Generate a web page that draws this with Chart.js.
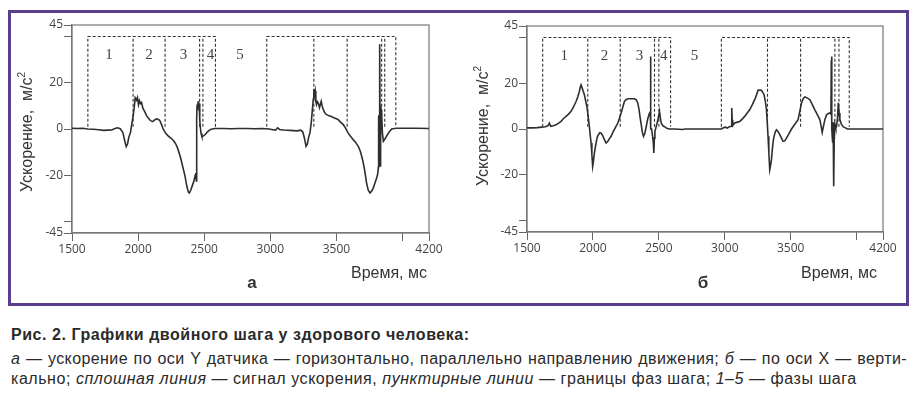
<!DOCTYPE html>
<html lang="ru">
<head>
<meta charset="utf-8">
<script src="https://cdn.jsdelivr.net/npm/chart.js@4/dist/chart.umd.min.js"></script>
<style>
  html, body { margin: 0; padding: 0; background: #fff; }
  body { width: 919px; height: 397px; position: relative; overflow: hidden;
         font-family: "Liberation Sans", Arial, sans-serif; color: #333; }
  .frame { position: absolute; left: 8px; top: 10px; width: 901px; height: 296px;
           box-sizing: border-box; border: 3px solid #5b3d8e; }
  canvas { position: absolute; }
  .ytitle { position: absolute; font-size: 16px; white-space: pre; line-height: 18px;
            transform: translate(-50%, -50%) rotate(-90deg); }
  .ytitle sup { font-size: 10px; vertical-align: 7px; line-height: 0; }
  .xtitle { position: absolute; font-size: 16px; line-height: 16px; white-space: nowrap; }
  .sub { position: absolute; font-size: 17px; font-weight: bold; line-height: 17px;
         transform: translateX(-50%); }
  .cap { position: absolute; left: 11px; width: 896px; font-size: 16px; line-height: 16px;
         letter-spacing: 0.55px; white-space: nowrap; color: #2a2a2a; }
  .cap.b { font-weight: bold; letter-spacing: 0.55px; }
  .cap.j { text-align: justify; text-align-last: justify; white-space: normal; letter-spacing: 0.4px; }
</style>
</head>
<body>
<div class="frame"></div>

<canvas id="chartA" width="440" height="260" style="left:12px; top:14px; width:440px; height:260px"></canvas>
<canvas id="chartB" width="440" height="260" style="left:466px; top:14px; width:440px; height:260px"></canvas>

<div class="ytitle" style="left:27px; top:132px">Ускорение,  м/с<sup>2</sup></div>
<div class="ytitle" style="left:483px; top:126px">Ускорение,  м/с<sup>2</sup></div>
<div class="xtitle" style="right:492px; top:265px">Время, мс</div>
<div class="xtitle" style="right:42px; top:265px">Время, мс</div>
<div class="sub" style="left:252px; top:274px">а</div>
<div class="sub" style="left:703px; top:274px">б</div>

<div class="cap b" style="top:327px">Рис. 2. Графики двойного шага у здорового человека:</div>
<div class="cap j" style="top:351px"><i>а</i> — ускорение по оси Y датчика — горизонтально, параллельно направлению движения; <i>б</i> — по оси X — верти-</div>
<div class="cap" style="top:371px">кально; <i>сплошная линия</i> — сигнал ускорения, <i>пунктирные линии</i> — границы фаз шага; <i>1–5</i> — фазы шага</div>

<script>
// axis ticks (shared by both panels)
const xTicks = [1500, 2000, 2500, 3000, 3500, 4000, 4200];
const xTickLabels = ["1500", "2000", "2500", "3000", "3500", "", "4200"];
const yTicks = [-45, -40, -20, 0, 20, 40, 45];
const yTickLabels = ["-45", "", "-20", "0", "20", "", "45"];

// phase boxes: top / bottom of the dashed lines, phase names
const boxTop = 40;
const boxBottom = 1;
const phaseNames = ["1", "2", "3", "4", "5"];
const phaseNameY = 32;

// panel а — acceleration along Y
const timeA = [1500, 1540, 1580, 1620, 1660, 1700, 1740, 1770, 1800, 1825, 1845, 1865, 1885, 1898, 1910, 1920, 1930, 1942, 1952, 1962,
  1970, 1978, 1988, 1995, 2003, 2010, 2018, 2026, 2036, 2050, 2064, 2080, 2095, 2110, 2125, 2140, 2152, 2165, 2178, 2192,
  2210, 2229, 2250, 2270, 2285, 2300, 2318, 2330, 2343, 2355, 2369, 2380, 2388, 2398, 2410, 2422, 2432, 2436, 2440, 2443,
  2446, 2450, 2454, 2458, 2462, 2466, 2470, 2476, 2483, 2495, 2508, 2525, 2547, 2580, 2650, 2700, 2760, 2820, 2880, 2940,
  2990, 3010, 3040, 3055, 3070, 3100, 3150, 3200, 3230, 3245, 3258, 3270, 3280, 3290, 3300, 3310, 3318, 3325, 3329, 3334,
  3339, 3344, 3349, 3355, 3362, 3372, 3380, 3385, 3392, 3400, 3412, 3423, 3440, 3461, 3485, 3512, 3530, 3550, 3570, 3588,
  3605, 3627, 3645, 3665, 3680, 3692, 3703, 3715, 3728, 3740, 3753, 3765, 3779, 3792, 3804, 3812, 3817, 3819, 3822, 3825,
  3829, 3831, 3834, 3838, 3842, 3848, 3855, 3868, 3880, 3900, 3918, 3950, 4000, 4100, 4200];
const accelA = [0.3, 0.2, 0.3, 0, -0.1, -0.3, -0.6, -0.5, -0.4, 0.2, 0.5, 0.1, -1.5, -5, -7.6, -6.5, -3.5, -1.5, 2, 5.6,
  9, 13.5, 12.5, 13.6, 10.5, 12.2, 11, 11.5, 9, 7.5, 5.8, 4.5, 3.6, 3.2, 3.9, 4.4, 4.2, 3.6, 1.8, -0.3,
  -2, -3.1, -4, -5.2, -6.5, -8.5, -11.8, -14.5, -17.6, -20.5, -24.9, -27.3, -27.7, -26.5, -24.5, -22.5, -20, -19, -22.5, 5,
  10.6, 8, 12, 9.5, 11, 4, 1.2, -2, -3.3, -3, -2.4, -1.2, -0.2, 0.2, 0.2, 0.1, 0.2, 0.2, 0.1, 0.2,
  0, -0.2, -0.5, 0.5, -0.2, -0.4, -0.6, -0.8, -0.5, -1.2, -4, -7.5, -6.5, -3.5, -1.5, 3, 8.5, 13, 17.2, 15,
  16.5, 12, 10.6, 11.8, 11.2, 9.2, 11, 12, 10, 8.5, 7, 6.3, 5.8, 5.4, 4.8, 4.1, 3, 2, 0.3, -1.7,
  -3, -4.6, -5.8, -7.5, -9.5, -12, -14.7, -18.5, -23.4, -26.4, -27.7, -27, -25.5, -23.3, -21.2, -19.5, -16.6, 5, 6, -4,
  36.7, -16, 6, 8, 5.6, -2, -5.3, -4.2, -3, -1.2, 0, 0.3, 0.3, 0.3, 0.2];
const phasesA1 = [1620, 1962, 2204, 2465, 2490, 2585];
const phasesA2 = [2973, 3329, 3581, 3842, 3865, 3949];
const phaseNameXA = [1779, 2082, 2343, 2547, 2770];

// panel б — acceleration along X
const timeB = [1500, 1540, 1580, 1610, 1640, 1660, 1670, 1680, 1700, 1720, 1740, 1758, 1775, 1796, 1815, 1834, 1852, 1872, 1885, 1897,
  1905, 1910, 1918, 1926, 1935, 1946, 1956, 1965, 1973, 1980, 1986, 1992, 1998, 2004, 2011, 2018, 2024, 2033, 2042, 2052,
  2062, 2075, 2088, 2100, 2112, 2125, 2138, 2155, 2172, 2189, 2200, 2214, 2226, 2239, 2252, 2264, 2290, 2315, 2328, 2340,
  2350, 2358, 2366, 2375, 2384, 2393, 2404, 2416, 2429, 2435, 2437, 2439, 2445, 2452, 2458, 2462, 2466, 2470, 2475, 2484,
  2493, 2500, 2505, 2511, 2518, 2530, 2543, 2560, 2580, 2620, 2680, 2700, 2750, 2800, 2850, 2900, 2950, 2974, 2990, 3005,
  3020, 3035, 3050, 3053, 3056, 3060, 3075, 3095, 3113, 3132, 3151, 3170, 3189, 3208, 3227, 3240, 3252, 3265, 3278, 3288,
  3298, 3308, 3316, 3322, 3328, 3334, 3341, 3347, 3354, 3362, 3368, 3374, 3383, 3392, 3405, 3417, 3430, 3442, 3455, 3468,
  3487, 3506, 3530, 3556, 3570, 3582, 3595, 3607, 3625, 3645, 3663, 3683, 3702, 3721, 3730, 3739, 3748, 3759, 3772, 3785,
  3797, 3805, 3808, 3810, 3813, 3818, 3822, 3825, 3827, 3830, 3836, 3842, 3848, 3855, 3861, 3867, 3873, 3885, 3898, 3915,
  3930, 4000, 4100, 4200];
const accelB = [0.5, 0.5, 0.6, 0.8, 1, 1.5, 2.6, 1.2, 1.4, 1.8, 2.6, 3.3, 4.5, 5.5, 6.5, 7.7, 9.5, 12, 14, 16.4,
  18.5, 19.3, 18, 16.5, 15, 12, 9.2, 5, 1, -3, -6.1, -11, -16.3, -14, -10.5, -8, -6.1, -3.5, -2.5, -1.6,
  -1.8, -3, -4.8, -6.1, -5.5, -4.2, -3.2, -1, 0.8, 2.6, 4.5, 7, 9.5, 12, 12.8, 13.2, 13.2, 13.2, 12.8, 11.4,
  8.5, 5, 2, -1.5, -3.2, -2, 1, 4.5, 7, 7.5, 31.7, 0, 0, -3, -6, -10.5, -4, -1, 0, 2,
  4.1, 6, 7.7, 5, 2.6, 1.5, 1, 0.3, 0, 0, -0.2, 0, 0, 0, 0, 0, 0, 0, 0.5, 0.8,
  0.4, 1, 1.2, 9.2, 4, 1.5, 2.6, 3, 3.3, 4.3, 5.5, 7, 8.4, 10.5, 12.8, 14.8, 16.9, 17, 16.9, 16,
  15, 12, 8.4, 3, -3.2, -10, -17.8, -16, -13.4, -8, -5, -3.2, -1.2, -0.4, -1.2, -2.5, -4, -5.4, -5.2, -4,
  -2, 0, 2, 4.1, 8, 11.4, 13.2, 14, 13.6, 12.8, 10.8, 8.4, 6.3, 4.1, 1.5, -1.5, 1, 4.1, 6.2, 6.8,
  7, 6.5, 30, 31.7, 0, -6, 3, -15, -25, -5, 2, 0.5, 1, 5, 11.4, 7, 4.1, 2, 1, 0.5,
  0, 0, 0, 0];
const phasesB1 = [1619, 1961, 2207, 2467, 2500, 2589];
const phasesB2 = [2974, 3324, 3575, 3835, 3866, 3944];
const phaseNameXB = [1783, 2087, 2353, 2538, 2771];

const tickFont = { family: "'Open Sans', 'Liberation Sans', sans-serif", size: 12 };

// dashed outline of one double-step: outer box + inner dividers, broken by gaps
function phasePath(bounds) {
  const first = bounds[0], last = bounds[bounds.length - 1];
  const pts = [
    { x: first, y: boxBottom }, { x: first, y: boxTop },
    { x: last, y: boxTop }, { x: last, y: boxBottom }, { x: last, y: null }
  ];
  bounds.slice(1, -1).forEach(b => {
    pts.push({ x: b, y: boxBottom }, { x: b, y: boxTop }, { x: b, y: null });
  });
  return pts;
}

const framePlugin = {
  id: "frame",
  beforeDatasetsDraw(chart) {
    const a = chart.chartArea, ctx = chart.ctx;
    ctx.save();
    ctx.strokeStyle = "#777";
    ctx.lineWidth = 1.2;
    ctx.strokeRect(a.left, a.top, a.right - a.left, a.bottom - a.top);
    ctx.restore();
  }
};

const phaseNamePlugin = {
  id: "phaseNames",
  afterDatasetsDraw(chart, args, opts) {
    const ctx = chart.ctx, xs = chart.scales.x, ys = chart.scales.y;
    ctx.save();
    ctx.font = "15px 'Liberation Serif', 'Times New Roman', serif";
    ctx.fillStyle = "#444";
    ctx.textAlign = "center";
    ctx.textBaseline = "middle";
    phaseNames.forEach((name, i) => {
      ctx.fillText(name, xs.getPixelForValue(opts.xs[i]), ys.getPixelForValue(phaseNameY));
    });
    ctx.restore();
  }
};

function makeChart(id, time, accel, ph1, ph2, nameX, pad) {
  const dashed = pts => ({
    data: pts, showLine: true, borderColor: "#333", borderWidth: 1.1,
    borderDash: [3, 2], pointRadius: 0, spanGaps: false
  });
  return new Chart(document.getElementById(id), {
    type: "scatter",
    data: {
      datasets: [
        {
          data: time.map((t, i) => ({ x: t, y: accel[i] })),
          showLine: true, borderColor: "#2e2e2e", borderWidth: 1.6,
          pointRadius: 0, tension: 0
        },
        dashed(phasePath(ph1)),
        dashed(phasePath(ph2))
      ]
    },
    options: {
      responsive: false,
      animation: false,
      layout: { padding: { left: 0, top: pad.top, right: pad.right, bottom: 0 } },
      plugins: { legend: { display: false }, tooltip: { enabled: false }, phaseNames: { xs: nameX } },
      scales: {
        x: {
          type: "linear", min: 1500, max: 4200,
          afterBuildTicks: s => { s.ticks = xTicks.map(v => ({ value: v })); },
          afterFit: s => { s.height = pad.xh; },
          ticks: { callback: (v, i) => xTickLabels[i], font: tickFont, color: "#444",
                   padding: 1, maxRotation: 0, autoSkip: false },
          grid: { drawOnChartArea: false, drawTicks: true, tickLength: 8, color: "#666" },
          border: { color: "#777", width: 1.2 }
        },
        y: {
          type: "linear", min: -45, max: 45,
          afterBuildTicks: s => { s.ticks = yTicks.map(v => ({ value: v })); },
          afterFit: s => { s.width = pad.yw; },
          ticks: { callback: (v, i) => yTickLabels[i], font: tickFont, color: "#444",
                   padding: 1, autoSkip: false },
          grid: { drawOnChartArea: false, drawTicks: true, tickLength: 8, color: "#666" },
          border: { color: "#777", width: 1.2 }
        }
      }
    },
    plugins: [framePlugin, phaseNamePlugin]
  });
}

makeChart("chartA", timeA, accelA, phasesA1, phasesA2, phaseNameXA, { top: 11, right: 23, xh: 41, yw: 60 });
makeChart("chartB", timeB, accelB, phasesB1, phasesB2, phaseNameXB, { top: 12, right: 23, xh: 42, yw: 61 });
</script>
</body>
</html>
